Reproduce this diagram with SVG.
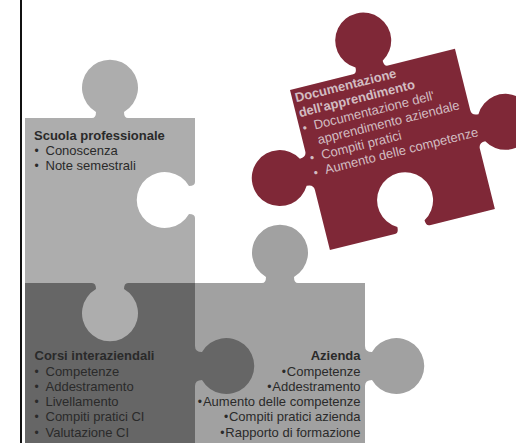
<svg xmlns="http://www.w3.org/2000/svg" width="516" height="443" viewBox="0 0 516 443">
<style>
text{font-family:"Liberation Sans",Arial,sans-serif;font-size:13px;fill:#2a2a2a}
.b{font-weight:bold}
.r{text-anchor:end}
.d{font-size:12px;letter-spacing:.9px}
.m text{fill:#d2bcc1}
</style>
<rect width="516" height="443" fill="#fff"/>
<g id="frame"><rect x="20" y="0" width="2" height="443" fill="#111"/></g>
<g id="connectors"/>
<g id="azienda">
<path transform="translate(195 283)" fill="#a1a1a1" d="M0 0H67Q71 0 71 -6A28 28 0 1 1 99 -6Q99 0 103 0H170V63Q170 69 177 69A28 28 0 1 1 177 97Q170 97 170 103V165H0Z"/>
<text class="b r" x="360.500" y="360">Azienda</text>
<text class="r" x="360.500" y="375.500"><tspan class="d">•</tspan>Competenze</text>
<text class="r" x="360.500" y="391"><tspan class="d">•</tspan>Addestramento</text>
<text class="r" x="360.500" y="406"><tspan class="d">•</tspan>Aumento delle competenze</text>
<text class="r" x="360.500" y="421"><tspan class="d">•</tspan>Compiti pratici azienda</text>
<text class="r" x="360.500" y="436.500"><tspan class="d">•</tspan>Rapporto di formazione</text>
</g>
<g id="corsi-interaziendali">
<path transform="translate(25 283)" fill="#666" d="M0 0H170V63Q170 69 177 69A28 28 0 1 1 177 97Q170 97 170 103V165H0Z"/>
<text class="b" x="34.500" y="360">Corsi interaziendali</text>
<text class="d" x="34.500" y="375.500">•</text><text x="45.500" y="375.500">Competenze</text>
<text class="d" x="34.500" y="391">•</text><text x="45.500" y="391">Addestramento</text>
<text class="d" x="34.500" y="406">•</text><text x="45.500" y="406">Livellamento</text>
<text class="d" x="34.500" y="421">•</text><text x="45.500" y="421">Compiti pratici CI</text>
<text class="d" x="34.500" y="436.500">•</text><text x="45.500" y="436.500">Valutazione CI</text>
</g>
<g id="scuola-professionale">
<path transform="translate(25 118)" fill="#adadad" d="M0 0H67Q71 0 71 -6A28 28 0 1 1 99 -6Q99 0 103 0H170V64Q170 68 164 68A28 28 0 1 0 164 96Q170 96 170 100V165H103Q99 165 99 171A28 28 0 1 1 71 171Q71 165 67 165H0Z"/>
<text class="b" x="34" y="139.500">Scuola professionale</text>
<text class="d" x="34.500" y="155">•</text><text x="45.500" y="155">Conoscenza</text>
<text class="d" x="34.500" y="170">•</text><text x="45.500" y="170">Note semestrali</text>
</g>
<g id="documentazione" class="m" transform="translate(290 90) rotate(-14)">
<path fill="#7f2837" d="M0 0H65Q69 0 69 -6A28 28 0 1 1 97 -6Q97 0 101 0H170V63Q170 69 177 69A28 28 0 1 1 177 97Q170 97 170 103V165H103Q99 165 99 159A28 28 0 1 0 71 159Q71 165 67 165H0V103Q0 97 -7 97A28 28 0 1 1 -7 69Q0 69 0 63Z"/>
<text class="b" x="3" y="13.500">Documentazione</text>
<text class="b" x="3" y="28.800">dell'apprendimento</text>
<text class="d" x="3" y="44.400">•</text><text x="14.700" y="44.400">Documentazione dell'</text>
<text x="14.700" y="59.700">apprendimento aziendale</text>
<text class="d" x="3" y="75">•</text><text x="14.700" y="75">Compiti pratici</text>
<text class="d" x="3" y="90.300">•</text><text x="14.700" y="90.300">Aumento delle competenze</text>
</g>
</svg>
